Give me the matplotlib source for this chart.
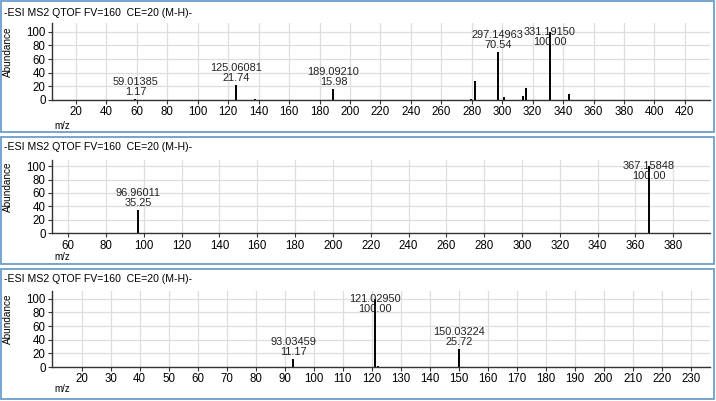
import matplotlib.pyplot as plt
from matplotlib.patches import Rectangle

# spectra (m/z, abundance %)
title = "-ESI MS2 QTOF FV=160  CE=20 (M-H)-"

mz1 = [59.01385, 125.06081, 137.6, 189.09210, 279.5, 282.3, 297.14963, 301.3, 313.9, 315.5, 331.19150, 343.7]
ab1 = [1.17, 21.74, 2.0, 15.98, 2.0, 28.0, 70.54, 4.4, 6.0, 17.0, 100.00, 8.4]
lab1 = [59.01385, 125.06081, 189.09210, 297.14963, 331.19150]

mz2 = [96.96011, 367.15848]
ab2 = [35.25, 100.00]
lab2 = [96.96011, 367.15848]

mz3 = [93.03459, 121.02950, 122.3, 150.03224]
ab3 = [11.17, 100.00, 1.5, 25.72]
lab3 = [93.03459, 121.02950, 150.03224]

xticks1 = list(range(20, 421, 20))
xticks2 = list(range(60, 381, 20))
xticks3 = list(range(20, 231, 10))

W, H = 716, 401
fig = plt.figure(figsize=(W / 100, H / 100), dpi=100)
fig.patch.set_facecolor('white')

plt.rcParams['font.family'] = ['Liberation Sans Narrow', 'Liberation Sans', 'DejaVu Sans']

# panel geometry in pixels: box top/bottom, axes top/bottom, title y, m/z y
panels = [
    dict(mz=mz1, ab=ab1, lab=lab1, xt=xticks1, xlim=(4.2, 436.5), ylim=(0, 113),
         box=(1, 131.5), ax=(23, 100), ty=13, mzy=126),
    dict(mz=mz2, ab=ab2, lab=lab2, xt=xticks2, xlim=(51.4, 399.5), ylim=(0, 109),
         box=(137.3, 263.7), ax=(160, 233.3), ty=147, mzy=257),
    dict(mz=mz3, ab=ab3, lab=lab3, xt=xticks3, xlim=(9.8, 236.7), ylim=(0, 110.8),
         box=(269, 398.7), ax=(291.3, 367), ty=279, mzy=389),
]

border = '#6a9fcb'
for p in panels:
    b0, b1 = p['box']
    fig.patches.append(Rectangle((0.5 / W, 1 - b1 / H), 713.5 / W, (b1 - b0) / H,
                                 transform=fig.transFigure, fill=False,
                                 edgecolor=border, linewidth=1.3))
    a0, a1 = p['ax']
    ax = fig.add_axes([52 / W, 1 - a1 / H, (710 - 52) / W, (a1 - a0) / H])
    ax.set_xlim(*p['xlim'])
    ax.set_ylim(*p['ylim'])
    ax.vlines(p['mz'], 0, p['ab'], color='black', linewidth=1.4)
    for m, a in zip(p['mz'], p['ab']):
        if m in p['lab']:
            y = min(a, 74)
            ax.annotate(f"{m:.5f}\n{a:.2f}", (m, y), xytext=(0, 1.5),
                        textcoords='offset points', ha='center', va='bottom',
                        fontsize=7.9, color='#222222', linespacing=1.0)
    ax.set_xticks(p['xt'])
    ax.set_yticks(range(0, 101, 20))
    ax.grid(True, color='#dddddd', linewidth=0.9)
    ax.set_axisbelow(True)
    for s in ['top', 'right']:
        ax.spines[s].set_visible(False)
    for s in ['left', 'bottom']:
        ax.spines[s].set_color('#333333')
        ax.spines[s].set_linewidth(1.0)
    ax.tick_params(axis='both', labelsize=8.3, length=3, width=0.8,
                   colors='#333333', labelcolor='black', pad=1.5)
    fig.text(4 / W, 1 - p['ty'] / H, title, fontsize=7.6, ha='left', va='center')
    fig.text(54 / W, 1 - p['mzy'] / H, "m/z", fontsize=7, ha='left', va='center')
    fig.text(8 / W, 1 - (a0 + a1 - 20) / 2 / H, "Abundance", fontsize=7.2,
             rotation=90, ha='center', va='center')

fig.savefig('out.png', dpi=100)
